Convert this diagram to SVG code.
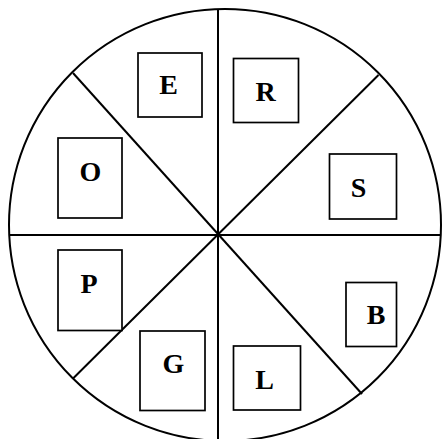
<svg xmlns="http://www.w3.org/2000/svg" width="442" height="439" viewBox="0 0 442 439">
<style>
.ln{stroke:#000;stroke-width:2;fill:none}
.bx{stroke:#000;stroke-width:1.7;fill:#fff}
.t{font-family:"Liberation Serif","Times New Roman",serif;font-weight:bold;font-size:28px;text-anchor:middle;fill:#000}
</style>
<rect width="442" height="439" fill="#fff"/>
<circle class="ln" cx="225" cy="225" r="216"/>
<g id="connectors">
<line class="ln" x1="218" y1="9" x2="218" y2="439"/>
<line class="ln" x1="9" y1="235" x2="441" y2="235"/>
<line class="ln" x1="73" y1="73" x2="362" y2="394"/>
<line class="ln" x1="378.5" y1="75" x2="73" y2="378.5"/>
</g>
<g id="E"><rect class="bx" x="138" y="53" width="64" height="64"/><text class="t" x="168.5" y="93.5">E</text></g>
<g id="R"><rect class="bx" x="233.5" y="58.5" width="65" height="64"/><text class="t" x="265.5" y="100.5">R</text></g>
<g id="O"><rect class="bx" x="58" y="138" width="64" height="80"/><text class="t" x="90.5" y="180.5">O</text></g>
<g id="S"><rect class="bx" x="329.5" y="154" width="67" height="65"/><text class="t" x="358.5" y="196.5">S</text></g>
<g id="P"><rect class="bx" x="58" y="250" width="64" height="80.5"/><text class="t" x="89" y="292.5">P</text></g>
<g id="B"><rect class="bx" x="346" y="282.5" width="50.5" height="64"/><text class="t" x="376" y="324">B</text></g>
<g id="G"><rect class="bx" x="140" y="331" width="65" height="79.5"/><text class="t" x="173.5" y="372.5">G</text></g>
<g id="L"><rect class="bx" x="233.5" y="346" width="67" height="64"/><text class="t" x="264.5" y="388.5">L</text></g>
</svg>
